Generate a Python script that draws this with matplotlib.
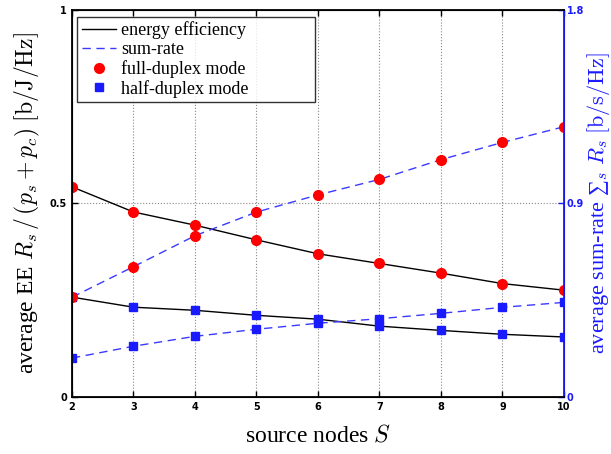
import matplotlib
matplotlib.use('Agg')
import matplotlib.pyplot as plt
from matplotlib.lines import Line2D

plt.rcParams['mathtext.fontset'] = 'cm'

S = [2, 3, 4, 5, 6, 7, 8, 9, 10]

# energy efficiency [b/J/Hz]
ee_fd = [0.543, 0.478, 0.444, 0.406, 0.370, 0.345, 0.320, 0.293, 0.276]
ee_hd = [0.258, 0.232, 0.224, 0.211, 0.201, 0.183, 0.172, 0.162, 0.155]

# sum-rate [b/s/Hz]
rate_fd = [0.464, 0.606, 0.750, 0.860, 0.940, 1.012, 1.104, 1.184, 1.257]
rate_hd = [0.181, 0.236, 0.282, 0.315, 0.343, 0.364, 0.389, 0.417, 0.440]

blue = '#1a1aff'
dash_blue = '#3a3aff'
serif = ['Liberation Serif', 'DejaVu Serif']

fig = plt.figure(figsize=(6.11, 4.54), dpi=100)
ax = fig.add_axes([0.1178, 0.1256, 0.8052, 0.8524])
ax2 = ax.twinx()

ax.plot(S, ee_fd, color='k', lw=1.0, marker='o', ms=7, mfc='red', mec='red')
ax.plot(S, ee_hd, color='k', lw=1.0, marker='s', ms=5.5, mfc=blue, mec=blue)
ax2.plot(S, rate_fd, color=dash_blue, lw=1.0, ls=(0, (6, 4)), marker='o', ms=7,
         mfc='red', mec='red')
ax2.plot(S, rate_hd, color=dash_blue, lw=1.0, ls=(0, (6, 4)), marker='s', ms=5.5,
         mfc=blue, mec=blue)

ax.set_xlim(2, 10)
ax.set_ylim(0, 1)
ax2.set_ylim(0, 1.8)
ax.set_xticks(S)
ax.set_yticks([0, 0.5, 1])
ax.set_yticklabels(['0', '0.5', '1'])
ax2.set_yticks([0, 0.9, 1.8])
ax2.set_yticklabels(['0', '0.9', '1.8'])

ax.grid(True, ls=':', color='#888888', lw=0.8)
ax.set_axisbelow(True)

ax.tick_params(axis='both', direction='in', labelsize=7, top=True, length=4, width=1)
ax2.tick_params(axis='y', direction='in', labelsize=7, colors=blue, length=4, width=1,
                pad=2)
for lab in ax.get_xticklabels() + ax.get_yticklabels() + ax2.get_yticklabels():
    lab.set_fontweight('bold')

for side in ['left', 'bottom', 'top']:
    ax2.spines[side].set_linewidth(1.3)
ax2.spines['right'].set_color(blue)
ax2.spines['right'].set_linewidth(1.3)

ax.set_xlabel('source nodes $S$', fontsize=17, family=serif, labelpad=9)
ax.set_ylabel('average EE $R_s\\,/\\,(p_s+p_c)$ $[\\mathrm{b/J/Hz}]$', fontsize=17,
              family=serif, labelpad=6)
ax2.set_ylabel('average sum-rate \u2211$_s$ $R_s$ $[\\mathrm{b/s/Hz}]$', fontsize=16,
               family=serif, color=blue)
ax2.yaxis.set_label_coords(1.043, 0.5)

handles = [
    Line2D([], [], color='k', lw=1.0),
    Line2D([], [], color=dash_blue, lw=1.0, ls=(0, (6, 4))),
    Line2D([], [], ls='none', marker='o', ms=7, mfc='red', mec='red'),
    Line2D([], [], ls='none', marker='s', ms=5.5, mfc=blue, mec=blue),
]
labels = ['energy efficiency', 'sum-rate', 'full-duplex mode', 'half-duplex mode']
leg = ax2.legend(handles, labels, loc='upper left', bbox_to_anchor=(0.0102, 0, 0.484, 0.982),
                 mode='expand', prop={'family': serif, 'size': 13}, frameon=True,
                 fancybox=False, handlelength=1.9, borderpad=0.25, labelspacing=0.1,
                 handletextpad=0.3, borderaxespad=0)
leg.get_frame().set_edgecolor('k')
leg.get_frame().set_linewidth(1.0)

fig.savefig('out.png', dpi=100)
